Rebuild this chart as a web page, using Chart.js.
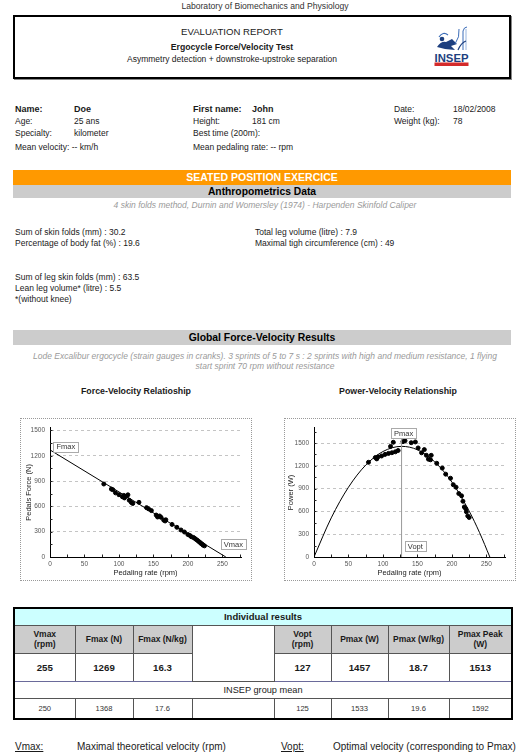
<!DOCTYPE html>
<html>
<head>
<meta charset="utf-8">
<script src="https://cdn.jsdelivr.net/npm/chart.js@4.4.1/dist/chart.umd.min.js"></script>
<style>
	body { margin: 0; width: 530px; height: 756px; background: #fff; position: relative; overflow: hidden;
		font-family: "Liberation Sans", Arial, sans-serif; color: #1a1a1a; }
	.t { position: absolute; white-space: nowrap; font-size: 8.5px; line-height: 10px; }
	.b { font-weight: bold; }
	.c { text-align: center; }
	.it { font-style: italic; color: #9a9a9a; }
	.bar { position: absolute; left: 13px; width: 498px; text-align: center; font-weight: bold; }
	.box { position: absolute; top: 418px; width: 230px; height: 161px; border: 1px dotted #999; }
	table { position: absolute; left: 13px; top: 607px; width: 498px; height: 111px; border-collapse: collapse;
		table-layout: fixed; border: 2px solid #000; }
	td { border: 1px solid #555; text-align: center; padding: 0; overflow: hidden; }
	.hd td { background: #cccccc; font-weight: bold; font-size: 8.5px; line-height: 10px; }
	.val td { font-weight: bold; font-size: 9.7px; border-bottom: 1px solid #6a6a9a; }
	.mean td { font-size: 7.6px; color: #333; }
	.u { text-decoration: underline; }
</style>
</head>
<body>

<div class="t c" style="left:0;width:530px;top:1px;font-size:8.6px;color:#333">Laboratory of Biomechanics and Physiology</div>

<div style="position:absolute;left:13px;top:15px;width:494px;height:60px;border:2px solid #000;box-shadow:1px 1px 0 #888"></div>
<div class="t c" style="left:0;width:464px;top:27px;font-size:9.6px">EVALUATION REPORT</div>
<div class="t c b" style="left:0;width:464px;top:41.5px;font-size:8.7px">Ergocycle Force/Velocity Test</div>
<div class="t c" style="left:0;width:464px;top:54px">Asymmetry detection + downstroke-upstroke separation</div>

<svg style="position:absolute;left:433px;top:25px" width="37" height="43" viewBox="0 0 37 43">
	<path d="M6 12 Q10 6 15 10" stroke="#3b6cb8" stroke-width="1.2" fill="none"/>
	<path d="M4 22 Q8 16 13 17 L19 14 L24 19 L18 21 L22 25 L12 24 Z" fill="#1d3f7f"/>
	<circle cx="9" cy="14" r="2.3" fill="#1d3f7f"/>
	<path d="M22 19 Q27 12 26 4" stroke="#3b6cb8" stroke-width="1" fill="none"/>
	<path d="M30 25 L30 6 Q31 2 34 2" stroke="#3b6cb8" stroke-width="1" fill="none"/>
	<path d="M33 25 L33 4" stroke="#7fa3d8" stroke-width="0.8" fill="none"/>
	<path d="M25 25 Q28 18 33 16" stroke="#1d3f7f" stroke-width="1.2" fill="none"/>
	<text x="18.5" y="36.5" text-anchor="middle" font-family="Liberation Sans" font-weight="bold" font-size="11.5" fill="#1d3f7f" textLength="34" lengthAdjust="spacingAndGlyphs">INSEP</text>
	<rect x="1.5" y="37.5" width="34" height="3.5" fill="#d42a2a"/>
</svg>

<div class="t b" style="left:15px;top:104px;font-size:9px">Name:</div>
<div class="t b" style="left:74px;top:104px;font-size:9px">Doe</div>
<div class="t b" style="left:193px;top:104px;font-size:9px">First name:</div>
<div class="t b" style="left:252px;top:104px;font-size:9px">John</div>
<div class="t" style="left:394px;top:104px">Date:</div>
<div class="t" style="left:453px;top:104px">18/02/2008</div>
<div class="t" style="left:15px;top:116px">Age:</div>
<div class="t" style="left:74px;top:116px">25 ans</div>
<div class="t" style="left:193px;top:116px">Height:</div>
<div class="t" style="left:252px;top:116px">181 cm</div>
<div class="t" style="left:394px;top:116px">Weight (kg):</div>
<div class="t" style="left:453px;top:116px">78</div>
<div class="t" style="left:15px;top:128px">Specialty:</div>
<div class="t" style="left:74px;top:128px">kilometer</div>
<div class="t" style="left:193px;top:128px">Best time (200m):</div>
<div class="t" style="left:15px;top:142px">Mean velocity: -- km/h</div>
<div class="t" style="left:193px;top:142px">Mean pedaling rate: -- rpm</div>

<div class="bar" style="top:170px;height:15px;line-height:15px;background:#ff9900;color:#fff;font-size:10.5px">SEATED POSITION EXERCICE</div>
<div class="bar" style="top:185px;height:13px;line-height:13px;background:#cccccc;color:#000;font-size:10.3px">Anthropometrics Data</div>
<div class="t c it" style="left:0;width:530px;top:200px">4 skin folds method, Durnin and Womersley (1974) - Harpenden Skinfold Caliper</div>

<div class="t" style="left:15px;top:227px">Sum of skin folds (mm) : 30.2</div>
<div class="t" style="left:255px;top:227px">Total leg volume (litre) : 7.9</div>
<div class="t" style="left:15px;top:238px">Percentage of body fat (%) : 19.6</div>
<div class="t" style="left:255px;top:238px">Maximal tigh circumference (cm) : 49</div>
<div class="t" style="left:15px;top:272px">Sum of leg skin folds (mm) : 63.5</div>
<div class="t" style="left:15px;top:283px">Lean leg volume* (litre) : 5.5</div>
<div class="t" style="left:15px;top:294px">*(without knee)</div>

<div class="bar" style="top:330px;height:15px;line-height:15px;background:#cccccc;color:#000;font-size:10.4px">Global Force-Velocity Results</div>
<div class="t c it" style="left:0;width:530px;top:351px">Lode Excalibur ergocycle (strain gauges in cranks). 3 sprints of 5 to 7 s : 2 sprints with high and medium resistance, 1 flying</div>
<div class="t c it" style="left:0;width:530px;top:361px">start sprint 70 rpm without resistance</div>

<div class="t c b" style="left:20px;width:232px;top:386px;font-size:8.8px">Force-Velocity Relatioship</div>
<div class="t c b" style="left:282px;width:232px;top:386px;font-size:8.8px">Power-Velocity Relationship</div>

<div class="box" style="left:20px"><canvas id="forceChart" width="230" height="161"></canvas></div>
<div class="box" style="left:284px"><canvas id="powerChart" width="230" height="161"></canvas></div>

<table>
	<colgroup>
		<col style="width:61px"><col style="width:58px"><col style="width:59px"><col style="width:82px">
		<col style="width:57px"><col style="width:57px"><col style="width:61px"><col style="width:63px">
	</colgroup>
	<tr style="height:17px"><td colspan="8" style="background:#ccffff;font-weight:bold;font-size:9.5px">Individual results</td></tr>
	<tr class="hd" style="height:28px">
		<td>Vmax<br>(rpm)</td><td>Fmax (N)</td><td>Fmax (N/kg)</td><td rowspan="2" style="background:#fff"></td>
		<td>Vopt<br>(rpm)</td><td>Pmax (W)</td><td>Pmax (W/kg)</td><td>Pmax Peak<br>(W)</td>
	</tr>
	<tr class="val" style="height:28px">
		<td>255</td><td>1269</td><td>16.3</td><td>127</td><td>1457</td><td>18.7</td><td>1513</td>
	</tr>
	<tr style="height:17px"><td colspan="8" style="font-size:9.2px;color:#222">INSEP group mean</td></tr>
	<tr class="mean" style="height:21px">
		<td>250</td><td>1368</td><td>17.6</td><td></td><td>125</td><td>1533</td><td>19.6</td><td>1592</td>
	</tr>
</table>

<div class="t u" style="left:15px;top:741px;font-size:10px;line-height:12px">Vmax:</div>
<div class="t" style="left:77px;top:741px;font-size:10px;line-height:12px">Maximal theoretical velocity (rpm)</div>
<div class="t u" style="left:281px;top:741px;font-size:10px;line-height:12px">Vopt:</div>
<div class="t" style="left:333px;top:741px;font-size:10px;line-height:12px">Optimal velocity (corresponding to Pmax)</div>

<script>
const rpmTicks = [0, 50, 100, 150, 200, 250];
const forceTicks = [0, 300, 600, 900, 1200, 1500];
const powerTicks = [0, 300, 600, 900, 1200, 1500];

// force-velocity sprint points (rpm, N)
const forceRpm = [78, 89, 91, 95, 100, 105, 107, 108, 111, 113, 115, 118, 120, 129, 140, 143, 147, 154, 156, 159, 161,
	165, 167, 168, 177, 184, 190, 195, 200, 203, 205, 208, 210, 212, 214, 216, 218, 219, 221, 222, 224];
const forceN = [865, 805, 798, 760, 738, 714, 730, 700, 722, 737, 672, 646, 634, 648, 585, 570, 550, 497, 474, 486, 470,
	437, 427, 441, 386, 352, 320, 296, 266, 254, 240, 232, 220, 208, 196, 182, 170, 160, 150, 140, 132];
const forceFitRpm = [0, 255];
const forceFitN = [1269, 0];

// power-velocity sprint points (rpm, W)
const powerRpm = [79, 89, 91, 93, 98, 103, 108, 111, 113, 115, 118, 122, 129, 132, 141, 147, 151, 156, 160, 163, 166,
	169, 170, 178, 186, 191, 198, 202, 206, 210, 214, 216, 218, 220, 221, 223, 225];
const powerW = [1247, 1310, 1292, 1319, 1330, 1351, 1364, 1456, 1373, 1511, 1385, 1402, 1519, 1530, 1505, 1515, 1436,
	1372, 1414, 1339, 1288, 1280, 1339, 1234, 1171, 1091, 1037, 952, 919, 835, 806, 734, 659, 637, 596, 541, 520];
const powerFitRpm = [0, 25, 50, 75, 100, 127, 150, 175, 200, 225, 240, 255];
const powerFitW = [0, 515, 919, 1210, 1389, 1457, 1412, 1254, 986, 605, 323, 0];
const voptRpm = [127, 127];
const voptW = [0, 1575];

const forceLabelText = ['Fmax', 'Vmax'];
const forceLabelRpm = [23, 266];
const forceLabelN = [1309, 152];
const powerLabelText = ['Pmax', 'Vopt'];
const powerLabelRpm = [130, 147];
const powerLabelW = [1628, 142];

const toPoints = (xs, ys) => xs.map((x, i) => ({ x, y: ys[i] }));

// small inward ticks + boxed annotations
const extras = {
	id: 'extras',
	afterDraw(chart, args, opts) {
		const { ctx, scales: { x, y } } = chart;
		ctx.save();
		ctx.strokeStyle = '#222';
		ctx.lineWidth = 1;
		ctx.beginPath();
		for (let v = 25; v <= x.max; v += 25) {
			const px = Math.round(x.getPixelForValue(v)) + 0.5;
			ctx.moveTo(px, y.bottom);
			ctx.lineTo(px, y.bottom - 2.5);
		}
		for (let v = 150; v <= y.max; v += 150) {
			const py = Math.round(y.getPixelForValue(v)) + 0.5;
			ctx.moveTo(x.left, py);
			ctx.lineTo(x.left + 2.5, py);
		}
		ctx.stroke();

		ctx.font = '7.5px "Liberation Sans", Arial';
		ctx.textAlign = 'center';
		ctx.textBaseline = 'middle';
		opts.text.forEach((text, i) => {
			const px = x.getPixelForValue(opts.xs[i]);
			const py = y.getPixelForValue(opts.ys[i]);
			const w = Math.round(ctx.measureText(text).width + 6);
			const h = 10;
			const left = Math.round(px - w / 2) + 0.5;
			const top = Math.round(py - h / 2) + 0.5;
			ctx.fillStyle = '#fff';
			ctx.fillRect(left, top, w, h);
			ctx.strokeStyle = '#aaa';
			ctx.strokeRect(left, top, w, h);
			ctx.fillStyle = '#333';
			ctx.fillText(text, px, py + 0.5);
		});
		ctx.restore();
	},
};

function makeOptions(yMax, yTicks, yTitle, titlePad, labels) {
	return {
		responsive: false,
		animation: false,
		devicePixelRatio: 1,
		layout: { padding: { top: 4, right: 10, left: 0, bottom: 0 } },
		plugins: {
			legend: { display: false },
			tooltip: { enabled: false },
			extras: labels,
		},
		scales: {
			x: {
				type: 'linear',
				min: 0,
				max: 277,
				afterBuildTicks: (s) => { s.ticks = rpmTicks.map((v) => ({ value: v })); },
				afterFit: (s) => { s.height = 23; },
				grid: { drawOnChartArea: false, drawTicks: false },
				border: { display: true, color: '#000', width: 1 },
				ticks: { padding: 3, color: '#555', font: { size: 6.5, family: 'Liberation Sans' }, maxRotation: 0,
					callback: (v) => String(v) },
				title: { display: true, text: 'Pedaling rate (rpm)', color: '#222',
					font: { size: 7.5, family: 'Liberation Sans' }, padding: { top: 0, bottom: 3 } },
			},
			y: {
				type: 'linear',
				min: 0,
				max: yMax,
				afterBuildTicks: (s) => { s.ticks = yTicks.map((v) => ({ value: v })); },
				afterFit: (s) => { s.width = 29; },
				grid: {
					drawTicks: false,
					color: (c) => (c.tick && c.tick.value === 0 ? 'rgba(0,0,0,0)' : '#c4c4c4'),
				},
				border: { display: true, color: '#000', width: 1, dash: [3, 3] },
				ticks: { padding: 5, color: '#555', font: { size: 6.5, family: 'Liberation Sans' },
					callback: (v) => String(v) },
				title: { display: true, text: yTitle, color: '#222',
					font: { size: 7.5, family: 'Liberation Sans' }, padding: { top: titlePad, bottom: 0 } },
			},
		},
	};
}

new Chart(document.getElementById('forceChart'), {
	type: 'scatter',
	data: {
		datasets: [
			{ type: 'line', data: toPoints(forceFitRpm, forceFitN), borderColor: '#000', borderWidth: 1,
				pointRadius: 0, fill: false },
			{ data: toPoints(forceRpm, forceN), backgroundColor: '#000', borderColor: '#000', pointRadius: 2 },
		],
	},
	options: makeOptions(1530, forceTicks, 'Pedals Force (N)', 3,
		{ text: forceLabelText, xs: forceLabelRpm, ys: forceLabelN }),
	plugins: [extras],
});

new Chart(document.getElementById('powerChart'), {
	type: 'scatter',
	data: {
		datasets: [
			{ type: 'line', data: toPoints(voptRpm, voptW), borderColor: '#999', borderWidth: 1,
				pointRadius: 0, fill: false },
			{ type: 'line', data: toPoints(powerFitRpm, powerFitW), borderColor: '#000', borderWidth: 1,
				pointRadius: 0, fill: false, cubicInterpolationMode: 'monotone' },
			{ data: toPoints(powerRpm, powerW), backgroundColor: '#000', borderColor: '#000', pointRadius: 2 },
		],
	},
	options: makeOptions(1700, powerTicks, 'Power (W)', 1.5,
		{ text: powerLabelText, xs: powerLabelRpm, ys: powerLabelW }),
	plugins: [extras],
});
</script>
</body>
</html>
